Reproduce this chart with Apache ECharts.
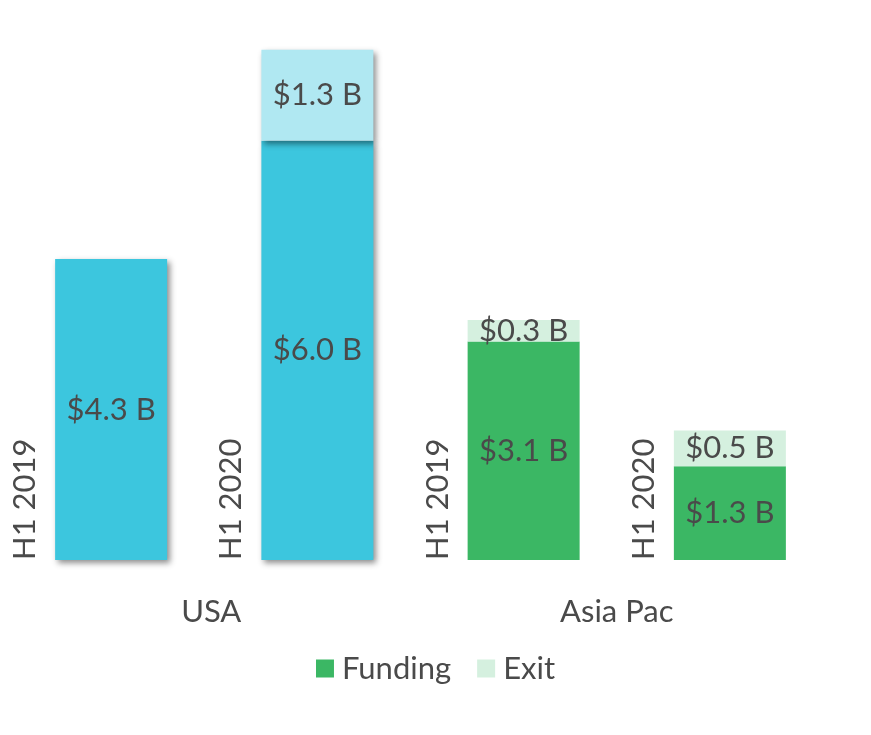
<!DOCTYPE html>
<html>
<head>
<meta charset="utf-8">
<script src="https://cdn.jsdelivr.net/npm/echarts@6/dist/echarts.min.js"></script>
<style>
  html, body { margin: 0; padding: 0; background: #fff; }
  #chart { width: 871px; height: 735px; }
</style>
</head>
<body>
<div id="chart"></div>
<script>
const periods = ['H1 2019', 'H1 2020', 'H1 2019', 'H1 2020']
const regions = ['USA', 'Asia Pac']
const regionOfBar = [0, 0, 1, 1]
const funding = [4.3, 5.99, 3.12, 1.34]
const exits = [null, 1.3, 0.31, 0.51]

const fundingColors = ['#3cc6de', '#3bb764']
const exitColors = ['#b0e8f2', '#d5f0df']
const textColor = '#4a4a4a'
const font = 'Lato, "Open Sans", sans-serif'
const fontSize = 31

const shadow = {
  shadowColor: 'rgba(0,0,0,0.45)',
  shadowBlur: 6,
  shadowOffsetX: 3,
  shadowOffsetY: 3,
}

function items(values, colors) {
  return values.map((v, i) => {
    const r = regionOfBar[i]
    return {
      value: v,
      itemStyle: Object.assign({ color: colors[r] }, r === 0 ? shadow : {}),
    }
  })
}

const label = {
  show: true,
  position: 'inside',
  color: textColor,
  fontFamily: font,
  fontSize: fontSize,
  formatter: p => (p.value == null ? '' : '$' + p.value.toFixed(1) + ' B'),
}

const regionText = { color: textColor, fontSize: fontSize, fontFamily: font }

const chart = echarts.init(document.getElementById('chart'))
chart.setOption({
  animation: false,
  textStyle: { fontFamily: font },
  grid: { left: 8, right: 38, top: 49, bottom: 175 },
  legend: {
    bottom: 46,
    left: 'center',
    icon: 'rect',
    itemWidth: 18,
    itemHeight: 18,
    itemGap: 26,
    textStyle: { color: textColor, fontSize: fontSize, fontFamily: font, padding: [0, 0, 0, 3] },
    data: ['Funding', 'Exit'],
  },
  xAxis: [
    {
      type: 'category',
      data: periods,
      axisLine: { show: false },
      axisTick: { show: false },
      axisLabel: { show: false },
    },
    {
      type: 'category',
      data: regions,
      position: 'bottom',
      axisLine: { show: false },
      axisTick: { show: false },
      axisLabel: {
        margin: 36,
        formatter: (v, i) => (i === 0 ? '{a|' + v + '}' : '{b|' + v + '}'),
        rich: {
          a: Object.assign({ padding: [0, 6, 0, 0] }, regionText),
          b: Object.assign({ padding: [0, 20, 0, 0] }, regionText),
        },
      },
    },
  ],
  yAxis: {
    type: 'value',
    min: 0,
    max: 7.3,
    show: false,
    splitLine: { show: false },
  },
  series: [
    {
      name: 'Funding',
      type: 'bar',
      stack: 'total',
      barWidth: 112,
      color: fundingColors[1],
      label,
      data: items(funding, fundingColors),
    },
    {
      name: 'Exit',
      type: 'bar',
      stack: 'total',
      barWidth: 112,
      color: exitColors[1],
      label,
      data: items(exits, exitColors),
    },
  ],
})

// rotated period labels to the left of each bar
const graphics = periods.map((p, i) => {
  const [x, y] = chart.convertToPixel({ gridIndex: 0 }, [i, 0])
  return {
    type: 'text',
    x: x - 86,
    y: y,
    rotation: Math.PI / 2,
    style: {
      text: p,
      fill: textColor,
      font: fontSize + 'px ' + font,
      align: 'left',
      verticalAlign: 'middle',
      textAlign: 'left',
      textVerticalAlign: 'middle',
    },
  }
})
chart.setOption({ graphic: graphics })
</script>
</body>
</html>
